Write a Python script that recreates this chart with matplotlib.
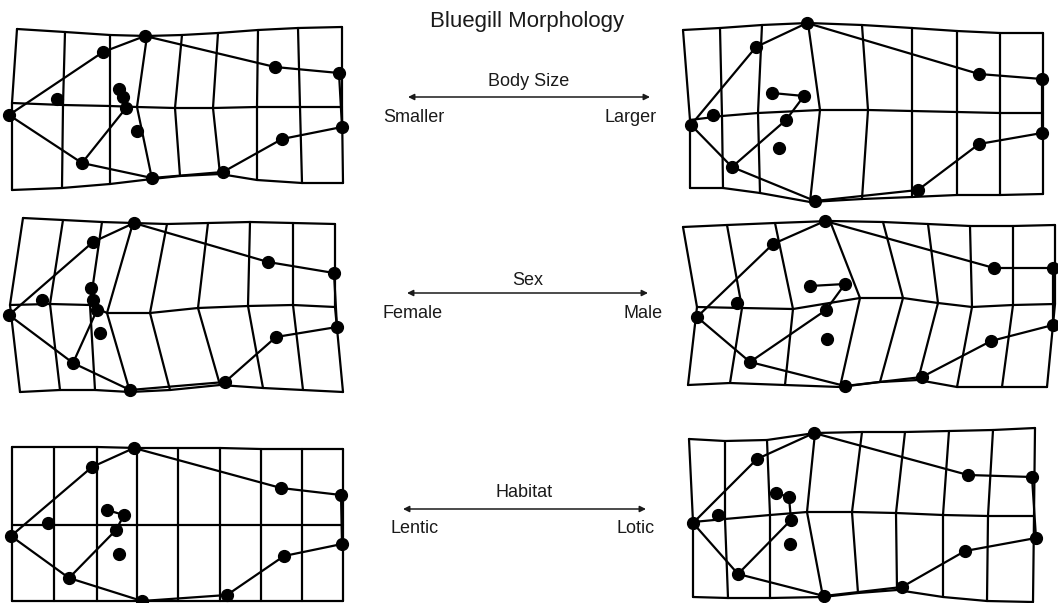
import numpy as np
import matplotlib.pyplot as plt

# ---------------------------------------------------------------------------------------
# Dados (coordenadas em pixels da imagem, y para baixo)
# ---------------------------------------------------------------------------------------

# landmarks: 0 focinho, 1 cabeca, 2-3 dorsal, 4-5 caudal, 6-7 anal, 8 pelvica,
# 9 opérculo, 10 olho, 11-13 cadeia interna, 14 ponto solto
links = [(0, 1), (1, 2), (2, 3), (3, 4), (4, 5), (5, 6), (6, 7), (7, 8), (8, 9),
         (9, 0), (9, 11), (11, 12), (12, 13)]

small_top = [(17, 29), (65, 32), (110, 35), (147, 36), (182, 35), (218, 33), (258, 30), (298, 28), (342, 27)]
small_mid = [(12, 103), (63, 105), (110, 106), (137, 107), (175, 108), (213, 108), (257, 107), (300, 107), (342, 107)]
small_bot = [(12, 190), (62, 188), (110, 184), (152, 179), (180, 176), (220, 174), (257, 180), (302, 183), (343, 183)]
small_pts = [(9, 115), (103, 52), (145, 36), (275, 67), (339, 73), (342, 127), (282, 139), (223, 172),
             (152, 178), (82, 163), (57, 99), (126, 108), (123, 97), (119, 89), (137, 131)]

large_top = [(683, 30), (720, 28), (762, 25), (808, 23), (862, 25), (912, 28), (957, 31), (1000, 33), (1043, 33)]
large_mid = [(690, 120), (722, 116), (758, 113), (820, 110), (868, 110), (912, 111), (957, 112), (1000, 113), (1043, 113)]
large_bot = [(690, 188), (723, 188), (760, 193), (810, 202), (862, 199), (912, 197), (957, 195), (1000, 195), (1043, 194)]
large_pts = [(691, 125), (756, 47), (807, 23), (979, 74), (1042, 79), (1042, 133), (979, 144), (918, 190),
             (815, 201), (732, 167), (713, 115), (786, 120), (804, 96), (772, 93), (779, 148)]

female_top = [(23, 218), (63, 220), (102, 222), (133, 223), (167, 224), (208, 223), (250, 222), (293, 223), (335, 224)]
female_mid = [(10, 305), (50, 304), (90, 305), (107, 313), (150, 313), (198, 308), (248, 306), (293, 305), (335, 307)]
female_bot = [(20, 392), (60, 390), (95, 390), (130, 392), (170, 390), (220, 385), (263, 388), (303, 390), (343, 392)]
female_pts = [(9, 315), (93, 242), (134, 223), (268, 262), (334, 273), (337, 327), (276, 337), (225, 382),
              (130, 390), (73, 363), (42, 300), (97, 310), (93, 300), (91, 288), (100, 333)]

male_top = [(683, 227), (727, 225), (775, 223), (830, 221), (883, 222), (928, 224), (970, 226), (1013, 226), (1055, 225)]
male_mid = [(697, 307), (742, 308), (793, 309), (860, 298), (903, 298), (938, 303), (972, 307), (1013, 305), (1055, 304)]
male_bot = [(688, 385), (730, 383), (785, 385), (840, 387), (880, 382), (918, 380), (957, 387), (1002, 387), (1047, 387)]
male_pts = [(697, 317), (773, 244), (825, 221), (994, 268), (1053, 268), (1053, 325), (991, 341), (922, 377),
            (845, 386), (750, 362), (737, 303), (826, 310), (845, 284), (810, 286), (827, 339)]

lentic_top = [(12, 447), (54, 447), (97, 447), (137, 448), (178, 448), (220, 448), (261, 449), (302, 449), (343, 449)]
lentic_mid = [(12, 525), (54, 525), (97, 525), (137, 525), (178, 525), (220, 525), (261, 525), (302, 525), (343, 525)]
lentic_bot = [(12, 601), (54, 601), (97, 601), (137, 601), (178, 601), (220, 601), (261, 601), (302, 601), (343, 601)]
lentic_pts = [(11, 536), (92, 467), (134, 448), (281, 488), (341, 495), (342, 544), (284, 556), (227, 595),
              (142, 601), (69, 578), (48, 523), (116, 530), (124, 515), (107, 510), (119, 554)]

lotic_top = [(689, 439), (725, 441), (767, 440), (815, 433), (862, 432), (905, 432), (949, 431), (993, 430), (1035, 428)]
lotic_mid = [(693, 522), (725, 519), (770, 515), (807, 512), (852, 512), (896, 513), (943, 515), (988, 516), (1034, 516)]
lotic_bot = [(693, 597), (728, 598), (770, 598), (823, 597), (858, 593), (897, 590), (943, 597), (987, 601), (1033, 602)]
lotic_pts = [(693, 523), (757, 459), (814, 433), (968, 475), (1032, 477), (1036, 538), (965, 551), (902, 587),
             (824, 596), (738, 574), (718, 515), (791, 520), (789, 497), (776, 493), (790, 544)]

paineis = [
    (small_top, small_mid, small_bot, small_pts),
    (large_top, large_mid, large_bot, large_pts),
    (female_top, female_mid, female_bot, female_pts),
    (male_top, male_mid, male_bot, male_pts),
    (lentic_top, lentic_mid, lentic_bot, lentic_pts),
    (lotic_top, lotic_mid, lotic_bot, lotic_pts),
]

eixos = ['Body Size', 'Sex', 'Habitat']
extremos = [('Smaller', 'Larger'), ('Female', 'Male'), ('Lentic', 'Lotic')]


def desenhaPainel(ax, top, mid, bot, pts):
    """Desenha a grade de deformação e os landmarks de um painel"""
    top = np.array(top)
    mid = np.array(mid)
    bot = np.array(bot)
    pts = np.array(pts)
    for linha in (top, mid, bot):
        ax.plot(linha[:, 0], linha[:, 1], color='black', lw=1.6, solid_capstyle='round')
    for i in range(len(top)):
        col = np.array([top[i], mid[i], bot[i]])
        ax.plot(col[:, 0], col[:, 1], color='black', lw=1.6, solid_capstyle='round')
    for a, b in links:
        ax.plot([pts[a, 0], pts[b, 0]], [pts[a, 1], pts[b, 1]], color='black', lw=1.6)
    ax.plot(pts[:, 0], pts[:, 1], 'o', color='black', ms=8.5, zorder=5)


fig = plt.figure(figsize=(10.58, 6.03), dpi=100)
ax = fig.add_axes([0, 0, 1, 1])
ax.set_xlim(0, 1058)
ax.set_ylim(603, 0)
ax.axis('off')

for p in paineis:
    desenhaPainel(ax, *p)

fonte = 'Liberation Sans'
ax.text(527, 27, 'Bluegill Morphology', ha='center', va='baseline', fontsize=16, family=fonte,
        color='#1a1a1a')

# layout das setas: y da seta, extremos x, linha de base do rótulo e das pontas
seta_y = [97, 293, 509]
seta_x = [(408, 650), (407, 648), (403, 646)]
rotulo_y = [86, 285, 497]
pontas_y = [122, 318, 533]
pontas_x = [(383, 657), (382, 663), (390, 655)]
for k in range(3):
    y = seta_y[k]
    x0, x1 = seta_x[k]
    ax.annotate('', xy=(x0, y), xytext=(x1, y),
                arrowprops=dict(arrowstyle='<|-|>', color='#1a1a1a', lw=1.1,
                                mutation_scale=9, shrinkA=0, shrinkB=0))
    ax.text((x0 + x1) / 2, rotulo_y[k], eixos[k], ha='center', va='baseline', fontsize=13,
            family=fonte, color='#1a1a1a')
    ax.text(pontas_x[k][0], pontas_y[k], extremos[k][0], ha='left', va='baseline', fontsize=13,
            family=fonte, color='#1a1a1a')
    ax.text(pontas_x[k][1], pontas_y[k], extremos[k][1], ha='right', va='baseline', fontsize=13,
            family=fonte, color='#1a1a1a')

plt.savefig('out.png', dpi=100)
